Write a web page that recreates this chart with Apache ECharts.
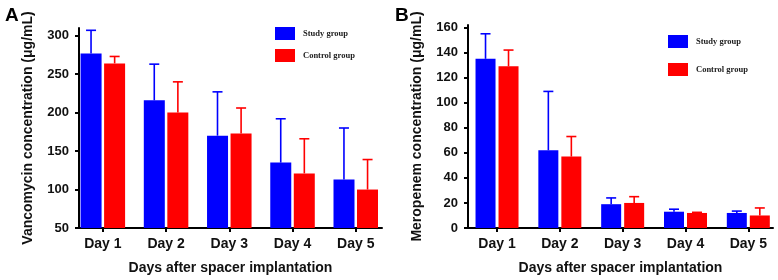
<!DOCTYPE html>
<html>
<head>
<meta charset="utf-8">
<script src="https://cdn.jsdelivr.net/npm/echarts@6/dist/echarts.min.js"></script>
<style>
  html, body { margin: 0; padding: 0; background: #fff; }
  #chart { width: 778px; height: 280px; }
</style>
</head>
<body>
<div id="chart"></div>
<script>
// data
const days = ['Day 1', 'Day 2', 'Day 3', 'Day 4', 'Day 5'];
const dayPos = [1, 2, 3, 4, 5];

const vancoStudy = [277, 216, 170, 135, 113];
const vancoStudyUpper = [307, 263, 227, 192, 180];
const vancoControl = [264, 200, 173, 121, 100];
const vancoControlUpper = [273, 240, 206, 166, 139];
const vancoTicks = [50, 100, 150, 200, 250, 300];

const meroStudy = [135, 62, 19, 13, 12];
const meroStudyUpper = [155, 109, 24, 15, 13.5];
const meroControl = [129, 57, 20, 12, 10];
const meroControlUpper = [142, 73, 25, 12.5, 16];
const meroTicks = [0, 20, 40, 60, 80, 100, 120, 140, 160];

const BLUE = '#0000ff';
const RED = '#ff0000';
const FONT = '"Liberation Sans", Arial, sans-serif';

const chart = echarts.init(document.getElementById('chart'));

const pairs = (vals) => vals.map((v, i) => [dayPos[i], v]);
const errData = (mean, upper) => mean.map((v, i) => [dayPos[i], v, upper[i]]);

// error bar drawn from the mean up to mean+SD, shifted onto its bar
const errSeries = (name, xi, mean, upper, color, shift) => ({
    name: name + ' SD',
    type: 'custom',
    xAxisIndex: xi,
    yAxisIndex: xi,
    z: 3,
    silent: true,
    data: errData(mean, upper),
    renderItem: (params, api) => {
        const x = api.value(0);
        const base = api.coord([x, api.value(1)]);
        const top = api.coord([x, api.value(2)]);
        const cx = base[0] + shift;
        const st = { stroke: color, lineWidth: 1.6 };
        return {
            type: 'group',
            children: [
                { type: 'line', shape: { x1: cx, y1: base[1], x2: cx, y2: top[1] }, style: st },
                { type: 'line', shape: { x1: cx - 5, y1: top[1], x2: cx + 5, y2: top[1] }, style: st }
            ]
        };
    }
});

const xAxisCfg = (gi, min, max) => ({
    type: 'value',
    gridIndex: gi,
    min: min,
    max: max,
    name: 'Days after spacer implantation',
    nameLocation: 'middle',
    nameGap: 33,
    nameTextStyle: { fontFamily: FONT, fontWeight: 'bold', fontSize: 14, color: '#111' },
    axisLine: { lineStyle: { color: '#000', width: 2 } },
    axisTick: { show: true, customValues: dayPos, length: 4, lineStyle: { color: '#000', width: 2 } },
    axisLabel: {
        customValues: dayPos,
        formatter: (v) => days[Math.round(v) - 1],
        margin: 9,
        fontFamily: FONT, fontWeight: 'bold', fontSize: 14, color: '#111'
    },
    splitLine: { show: false }
});

const yAxisCfg = (gi, name, min, max, ticks) => ({
    type: 'value',
    gridIndex: gi,
    min: min,
    max: max,
    name: name,
    nameLocation: 'middle',
    nameGap: 44,
    nameTextStyle: { fontFamily: FONT, fontWeight: 'bold', fontSize: 14, color: '#111' },
    axisLine: { show: true, lineStyle: { color: '#000', width: 2 } },
    axisTick: { show: true, customValues: ticks, length: 4, lineStyle: { color: '#000', width: 2 } },
    axisLabel: {
        customValues: ticks,
        margin: 10,
        fontFamily: FONT, fontWeight: 'bold', fontSize: 13, color: '#111'
    },
    splitLine: { show: false }
});

const legendCfg = (left, top, gap) => ({
    left: left,
    top: top,
    orient: 'vertical',
    padding: 0,
    itemWidth: 20,
    itemHeight: 13,
    itemGap: gap,
    icon: 'rect',
    data: ['Study group', 'Control group'],
    textStyle: { fontFamily: '"Liberation Serif", "Times New Roman", serif', fontWeight: 'bold', fontSize: 8.5, color: '#222', padding: [0, 0, 0, 3] }
});

const barSeries = (name, xi, vals, color, bw, gap) => ({
    name: name,
    type: 'bar',
    xAxisIndex: xi,
    yAxisIndex: xi,
    barWidth: bw,
    barGap: gap,
    itemStyle: { color: color },
    data: pairs(vals)
});

chart.setOption({
    animation: false,
    textStyle: { fontFamily: FONT },
    title: [
        { text: 'A', left: 0, top: 1, textStyle: { fontFamily: FONT, fontWeight: 'bold', fontSize: 19, color: '#000' } },
        { text: 'B', left: 390, top: 1, textStyle: { fontFamily: FONT, fontWeight: 'bold', fontSize: 19, color: '#000' } }
    ],
    legend: [legendCfg(275, 27, 9), legendCfg(668, 35, 15)],
    grid: [
        { left: 79, width: 303, top: 28, height: 203 },
        { left: 468, width: 305, top: 25, height: 206 }
    ],
    xAxis: [xAxisCfg(0, 0.623, 5.415), xAxisCfg(1, 0.538, 5.393)],
    yAxis: [
        yAxisCfg(0, 'Vancomycin concentration (μg/mL)', 50, 310, vancoTicks),
        yAxisCfg(1, 'Meropenem concentration (μg/mL)', 0, 162, meroTicks)
    ],
    series: [
        barSeries('Study group', 0, vancoStudy, BLUE, 21, '12%'),
        barSeries('Control group', 0, vancoControl, RED, 21, '12%'),
        errSeries('Study group', 0, vancoStudy, vancoStudyUpper, BLUE, -11.8),
        errSeries('Control group', 0, vancoControl, vancoControlUpper, RED, 11.8),
        barSeries('Study group', 1, meroStudy, BLUE, 20, '15%'),
        barSeries('Control group', 1, meroControl, RED, 20, '15%'),
        errSeries('Study group', 1, meroStudy, meroStudyUpper, BLUE, -11.5),
        errSeries('Control group', 1, meroControl, meroControlUpper, RED, 11.5)
    ]
});
</script>
</body>
</html>
